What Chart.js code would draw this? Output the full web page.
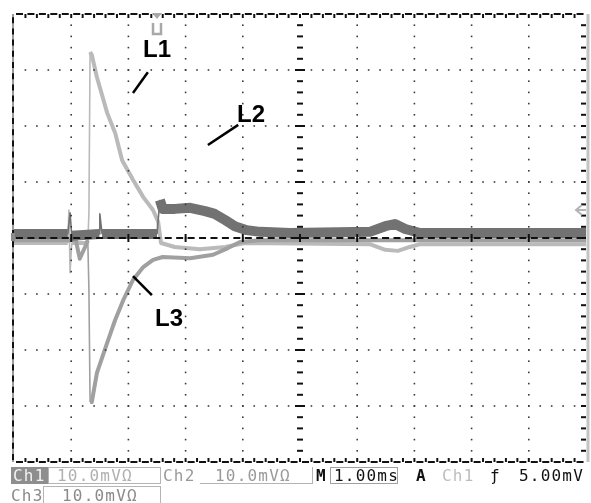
<!DOCTYPE html>
<html>
<head>
<meta charset="utf-8">
<script src="https://cdn.jsdelivr.net/npm/chart.js@4"></script>
<style>
  body { margin: 0; background: #fff; }
  #wrap { position: relative; width: 591px; height: 503px; }
  .lbl { position: absolute; font: bold 24px "Liberation Sans", Arial, sans-serif; line-height: 24px; color: #000; }
  .st { position: absolute; font: 16px "DejaVu Sans Mono", monospace; line-height: 16px; letter-spacing: 1.2px; white-space: nowrap; }
  .box { position: absolute; box-sizing: border-box; }
</style>
</head>
<body>
<div id="wrap">
  <canvas id="scope" width="591" height="503"></canvas>

  <div class="lbl" style="left:143px;top:37px">L1</div>
  <div class="lbl" style="left:237px;top:102px">L2</div>
  <div class="lbl" style="left:155px;top:306px">L3</div>

  <!-- status bar -->
  <div class="box" style="left:11px;top:467px;width:37px;height:17px;background:#8e8e8e"></div>
  <div class="st" style="left:13px;top:468px;color:#f2f2f2">Ch1</div>
  <div class="box" style="left:48px;top:467px;width:113px;height:17px;border:1.5px solid #b4b4b4"></div>
  <div class="st" style="left:57px;top:468px;color:#b0b0b0">10.0mVΩ</div>
  <div class="st" style="left:163px;top:468px;color:#9a9a9a">Ch2</div>
  <div class="box" style="left:200px;top:467px;width:113px;height:17px;border-bottom:1.5px solid #b4b4b4;border-right:1.5px solid #b4b4b4"></div>
  <div class="st" style="left:215px;top:468px;color:#9a9a9a">10.0mVΩ</div>
  <div class="st" style="left:316px;top:468px;color:#111;font-weight:bold">M</div>
  <div class="box" style="left:330px;top:467px;width:68px;height:17px;border:1.5px solid #a0a0a0"></div>
  <div class="st" style="left:334px;top:468px;color:#111">1.00ms</div>
  <div class="st" style="left:416px;top:468px;color:#111;font-weight:bold">A</div>
  <div class="st" style="left:442px;top:468px;color:#bdbdbd">Ch1</div>
  <div class="st" style="left:490px;top:468px;color:#111">ƒ</div>
  <div class="st" style="left:519px;top:468px;color:#111">5.00mV</div>

  <div class="st" style="left:11px;top:488px;color:#8a8a8a">Ch3</div>
  <div class="box" style="left:43px;top:486px;width:118px;height:18px;border:1.5px solid #b4b4b4;border-bottom:none"></div>
  <div class="st" style="left:62px;top:488px;color:#8a8a8a">10.0mVΩ</div>
</div>

<script>
// time in ms from the left edge of the screen (1 ms/div), voltage in mV (10 mV/div)
const l2Time = [0, 0.94, 0.98, 1.01, 1.49, 1.50, 1.54, 2.50, 2.55, 2.60, 2.81, 3.08, 3.34, 3.51, 3.69, 3.86, 4.07, 4.30, 4.83, 6.22, 6.49, 6.66, 6.84, 7.10, 10];
const l2Volt = [0.7, 0.7, 4.5, 0.4, 0.7, 4.3, 0.7, 0.7, 6.8, 5.2, 5.2, 5.4, 4.8, 4.3, 3.2, 2.1, 1.4, 1.1, 0.9, 1.1, 2.1, 2.5, 1.6, 0.9, 0.9];

const l1Time = [0, 0.94, 0.96, 0.98, 1.01, 1.29, 1.31, 1.33, 1.36, 1.45, 1.63, 1.77, 1.89, 2.08, 2.26, 2.43, 2.52, 2.57, 2.81, 3.25, 3.69, 4.04, 6.22, 6.49, 6.71, 6.92, 7.10, 10];
const l1Volt = [-0.9, -0.9, 5.0, -6.2, -0.9, -0.9, 4.5, 33.2, 32.7, 28.7, 22.3, 18.7, 13.9, 10.4, 7.3, 5.0, 2.9, -0.9, -1.6, -2.0, -1.6, -0.9, -1.1, -2.1, -2.3, -1.6, -1.1, -1.1];

const l3Time = [0, 1.08, 1.15, 1.26, 1.29, 1.31, 1.33, 1.36, 1.45, 1.63, 1.77, 1.91, 2.08, 2.26, 2.43, 2.60, 3.08, 3.48, 3.74, 3.95, 4.30, 10];
const l3Volt = [-0.4, -0.4, -3.7, -1.2, -0.4, -9.3, -29.3, -29.3, -24.1, -18.7, -14.6, -11.1, -7.5, -5.2, -3.9, -3.4, -3.6, -3.0, -1.8, -0.7, -0.4, -0.4];

const triggerTime = 2.5;
const triggerLevel = 5.0;

// pointer strokes from the L1/L2/L3 labels, in ms/mV
const pointers = [
  [2.34, 29.6, 2.08, 25.9],
  [3.92, 20.2, 3.39, 16.6],
  [2.08, -6.8, 2.41, -10.2]
];

function trace(label, t, v, color, width) {
  return {
    label,
    data: t.map((tt, i) => ({ x: tt, y: v[i] })),
    showLine: true,
    pointRadius: 0,
    borderColor: color,
    borderWidth: width,
    borderJoinStyle: 'round',
    segment: {
      // fast edges show up faint and thin on the scope
      borderWidth: ctx => Math.abs(ctx.p1.y - ctx.p0.y) > 5 * Math.abs(ctx.p1.x - ctx.p0.x) + 8 ? 1.6 : width
    }
  };
}

const graticule = {
  id: 'graticule',
  afterDatasetsDraw(chart) {
    const { ctx, chartArea: a, scales: { x, y } } = chart;
    const xs = v => x.getPixelForValue(v);
    const ys = v => y.getPixelForValue(v);
    ctx.save();

    // dotted division lines
    ctx.fillStyle = '#3a3a3a';
    for (let i = 1; i < 10; i++) {
      if (i === 5) continue;
      for (let m = 1; m < 40; m++) ctx.fillRect(xs(i) - 0.8, ys(-40 + m * 2) - 0.8, 1.6, 1.6);
    }
    for (let j = -30; j <= 30; j += 10) {
      if (j === 0) continue;
      for (let k = 1; k < 50; k++) ctx.fillRect(xs(k / 5) - 0.8, ys(j) - 0.8, 1.6, 1.6);
    }

    ctx.strokeStyle = '#111';
    ctx.lineWidth = 2;
    const seg = (x0, y0, x1, y1) => { ctx.beginPath(); ctx.moveTo(x0, y0); ctx.lineTo(x1, y1); ctx.stroke(); };

    // centre horizontal axis
    const y0 = ys(0);
    for (let k = 0; k < 50; k++) seg(xs(k / 5) + 2, y0, xs(k / 5) + 9, y0);
    for (let i = 1; i < 10; i++) seg(xs(i), y0 - 4, xs(i), y0 + 4);

    // centre vertical axis
    const x5 = xs(5);
    for (let m = 1; m < 40; m++) {
      const w = (m % 5 === 0) ? 5 : 3;
      seg(x5 - w, ys(-40 + m * 2), x5 + w, ys(-40 + m * 2));
    }

    // top / bottom edges
    for (let k = 0; k < 50; k++) {
      const p = xs(k / 5);
      seg(p + 2, a.top, p + 9, a.top);
      seg(p + 2, a.bottom, p + 9, a.bottom);
      if (k > 0) {
        seg(p, a.top, p, a.top + 4);
        seg(p, a.bottom, p, a.bottom - 4);
      }
    }

    // left edge
    ctx.strokeStyle = '#9a9a9a';
    ctx.lineWidth = 2;
    seg(a.left - 1, a.top, a.left - 1, a.bottom);
    ctx.strokeStyle = '#111';
    for (let m = 0; m < 40; m++) seg(a.left - 1, ys(-40 + m * 2) - 2, a.left - 1, ys(-40 + m * 2) - 8);

    // right edge
    ctx.strokeStyle = '#c4c4c4';
    ctx.lineWidth = 3;
    seg(a.right + 2, a.top, a.right + 2, a.bottom);
    ctx.strokeStyle = '#111';
    ctx.lineWidth = 2;
    for (let m = 1; m < 40; m++) seg(a.right - 5, ys(-40 + m * 2), a.right, ys(-40 + m * 2));

    // channel marker on the left
    ctx.fillStyle = '#8a8a8a';
    ctx.fillRect(a.left - 3, y0 - 5, 4, 8);

    // trigger position marker
    const tp = xs(triggerTime);
    ctx.fillStyle = '#a8a8a8';
    ctx.beginPath();
    ctx.moveTo(tp - 5, a.top - 1); ctx.lineTo(tp + 5, a.top - 1); ctx.lineTo(tp, a.top + 5);
    ctx.closePath(); ctx.fill();
    ctx.strokeStyle = '#a8a8a8';
    ctx.lineWidth = 2.5;
    ctx.beginPath();
    ctx.moveTo(tp - 4, a.top + 9); ctx.lineTo(tp - 4, a.top + 20); ctx.lineTo(tp + 4, a.top + 20); ctx.lineTo(tp + 4, a.top + 9);
    ctx.stroke();

    // trigger level arrow
    const yl = ys(triggerLevel);
    ctx.strokeStyle = '#b4b4b4';
    ctx.lineWidth = 2;
    seg(a.right - 10, yl, a.right, yl);
    ctx.beginPath();
    ctx.moveTo(a.right - 4, yl - 5); ctx.lineTo(a.right - 10, yl); ctx.lineTo(a.right - 4, yl + 5);
    ctx.stroke();

    // label pointers
    ctx.strokeStyle = '#000';
    ctx.lineWidth = 2.5;
    pointers.forEach(p => seg(xs(p[0]), ys(p[1]), xs(p[2]), ys(p[3])));

    ctx.restore();
  }
};

new Chart(document.getElementById('scope'), {
  type: 'scatter',
  data: {
    datasets: [
      trace('L2', l2Time, l2Volt, '#727272', 10),
      trace('L3', l3Time, l3Volt, '#a0a0a0', 4),
      trace('L1', l1Time, l1Volt, '#bababa', 4)
    ]
  },
  options: {
    responsive: false,
    animation: false,
    layout: { padding: { left: 14, top: 14, right: 5, bottom: 41 } },
    plugins: { legend: { display: false }, tooltip: { enabled: false } },
    scales: {
      x: { type: 'linear', min: 0, max: 10, display: false },
      y: { type: 'linear', min: -40, max: 40, display: false }
    }
  },
  plugins: [graticule]
});
</script>
</body>
</html>
